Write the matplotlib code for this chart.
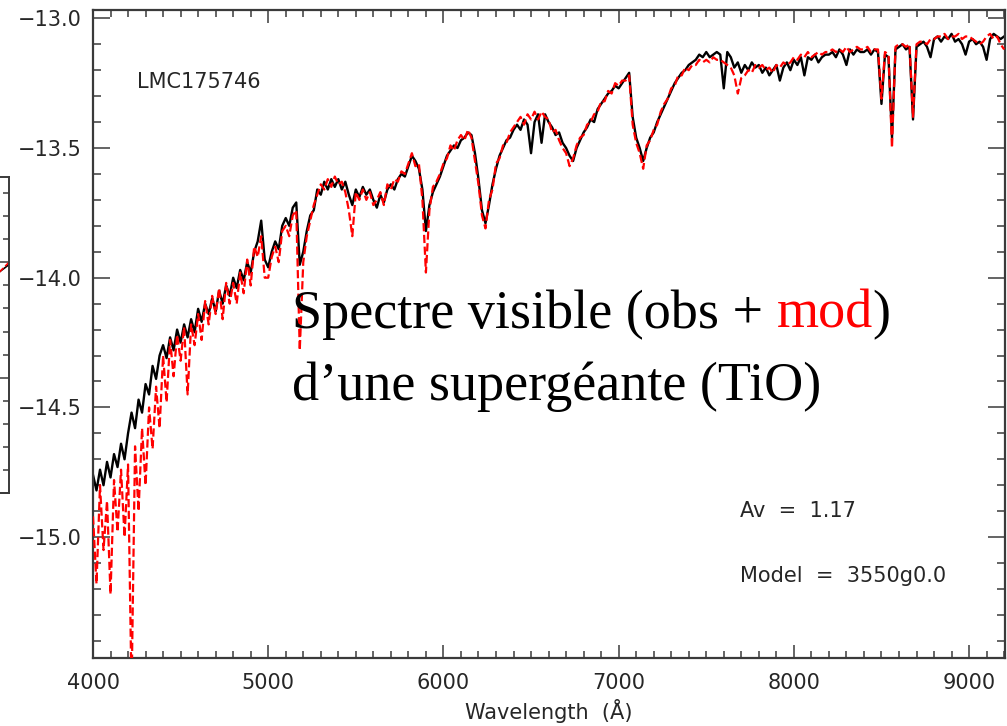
import numpy as np
import matplotlib
matplotlib.use('Agg')
import matplotlib.pyplot as plt
from matplotlib.ticker import MultipleLocator, FuncFormatter

# wavelength grid (Angstrom), 20 A steps
wave = np.arange(4000, 9201, 20)

# observed spectrum, log flux
obs_flux = [
    -14.76, -14.82, -14.74, -14.80, -14.71, -14.77, -14.68, -14.73, -14.64, -14.70,
    -14.60, -14.52, -14.58, -14.47, -14.52, -14.41, -14.45, -14.34, -14.39, -14.30,
    -14.26, -14.31, -14.23, -14.28, -14.20, -14.25, -14.18, -14.23, -14.16, -14.21,
    -14.12, -14.17, -14.10, -14.14, -14.08, -14.13, -14.05, -14.10, -14.03, -14.07,
    -14.00, -14.04, -13.97, -14.01, -13.94, -13.98, -13.90, -13.86, -13.78, -13.93,
    -13.96, -13.90, -13.86, -13.89, -13.80, -13.77, -13.80, -13.73, -13.71, -13.95,
    -13.90, -13.82, -13.76, -13.74, -13.66, -13.68, -13.63, -13.66, -13.62, -13.65,
    -13.62, -13.66, -13.63, -13.68, -13.72, -13.66, -13.69, -13.65, -13.68, -13.66,
    -13.70, -13.73, -13.68, -13.71, -13.66, -13.64, -13.66, -13.62, -13.60, -13.61,
    -13.57, -13.53, -13.55, -13.58, -13.66, -13.82, -13.72, -13.67, -13.64, -13.61,
    -13.57, -13.53, -13.51, -13.49, -13.50, -13.47, -13.46, -13.44, -13.45, -13.52,
    -13.62, -13.74, -13.79, -13.72, -13.64, -13.58, -13.53, -13.50, -13.47, -13.46,
    -13.43, -13.41, -13.43, -13.39, -13.41, -13.52, -13.40, -13.37, -13.48, -13.37,
    -13.40, -13.42, -13.45, -13.44, -13.48, -13.50, -13.53, -13.55, -13.50, -13.47,
    -13.44, -13.42, -13.39, -13.40, -13.35, -13.33, -13.31, -13.29, -13.28, -13.26,
    -13.27, -13.25, -13.23, -13.21, -13.38, -13.46, -13.50, -13.55, -13.50, -13.46,
    -13.44, -13.40, -13.37, -13.34, -13.31, -13.28, -13.25, -13.23, -13.21, -13.20,
    -13.18, -13.17, -13.16, -13.14, -13.15, -13.13, -13.15, -13.14, -13.13, -13.14,
    -13.27, -13.13, -13.15, -13.19, -13.17, -13.21, -13.18, -13.20, -13.17, -13.19,
    -13.18, -13.21, -13.19, -13.22, -13.20, -13.18, -13.24, -13.19, -13.17, -13.20,
    -13.16, -13.18, -13.15, -13.22, -13.15, -13.16, -13.14, -13.17, -13.15, -13.14,
    -13.14, -13.13, -13.15, -13.12, -13.14, -13.18, -13.12, -13.14, -13.12, -13.13,
    -13.13, -13.12, -13.14, -13.12, -13.13, -13.33, -13.14, -13.15, -13.46, -13.12,
    -13.11, -13.10, -13.12, -13.11, -13.39, -13.11, -13.10, -13.09, -13.11, -13.15,
    -13.08, -13.07, -13.09, -13.07, -13.08, -13.06, -13.09, -13.08, -13.10, -13.14,
    -13.09, -13.08, -13.10, -13.09, -13.11, -13.16, -13.08, -13.06, -13.07, -13.08,
    -13.07,
]

# model spectrum (3550g0.0, Av = 1.17)
mod_flux = [
    -14.92, -15.18, -14.80, -15.05, -14.86, -15.22, -14.78, -14.98, -14.74, -15.00,
    -14.72, -15.60, -14.65, -14.90, -14.58, -14.80, -14.50, -14.66, -14.42, -14.58,
    -14.30, -14.48, -14.24, -14.38, -14.22, -14.32, -14.19, -14.45, -14.18, -14.26,
    -14.14, -14.24, -14.09, -14.18, -14.07, -14.14, -14.04, -14.16, -14.02, -14.10,
    -14.02, -14.10, -13.98, -14.06, -13.93, -14.03, -13.88, -13.92, -13.84, -14.00,
    -14.00, -13.92, -13.88, -13.94, -13.82, -13.80, -13.84, -13.76, -13.74, -14.28,
    -13.94, -13.84, -13.78, -13.72, -13.68, -13.64, -13.66, -13.62, -13.65, -13.61,
    -13.64, -13.63, -13.67, -13.74, -13.84, -13.67, -13.70, -13.66, -13.70, -13.67,
    -13.72, -13.70, -13.67, -13.72, -13.64, -13.66, -13.62, -13.63, -13.59, -13.60,
    -13.56, -13.52, -13.57, -13.56, -13.70, -13.98, -13.74, -13.65, -13.63, -13.60,
    -13.56, -13.54, -13.49, -13.51, -13.47, -13.45, -13.47, -13.43, -13.46, -13.55,
    -13.64, -13.76, -13.81, -13.70, -13.66, -13.56, -13.54, -13.49, -13.48, -13.44,
    -13.42, -13.40, -13.38, -13.41, -13.37, -13.39, -13.36, -13.39, -13.36, -13.38,
    -13.39, -13.44, -13.43, -13.47, -13.50, -13.52, -13.57, -13.54, -13.49, -13.46,
    -13.45, -13.41, -13.40, -13.37, -13.36, -13.32, -13.32, -13.28, -13.29, -13.25,
    -13.26, -13.24, -13.24, -13.22, -13.41, -13.48, -13.52, -13.58, -13.49, -13.47,
    -13.43, -13.41, -13.36, -13.33, -13.31, -13.27, -13.26, -13.22, -13.22, -13.19,
    -13.20, -13.18, -13.18, -13.16, -13.17, -13.16, -13.17, -13.15, -13.16, -13.16,
    -13.17, -13.18, -13.19, -13.22, -13.29, -13.23, -13.22, -13.20, -13.21, -13.18,
    -13.19, -13.18, -13.20, -13.19, -13.21, -13.18, -13.19, -13.17, -13.18, -13.17,
    -13.15, -13.16, -13.14, -13.15, -13.13, -13.15, -13.14, -13.13, -13.14, -13.13,
    -13.13, -13.12, -13.13, -13.12, -13.13, -13.11, -13.13, -13.12, -13.11, -13.12,
    -13.12, -13.11, -13.13, -13.12, -13.12, -13.31, -13.13, -13.14, -13.50, -13.11,
    -13.10, -13.10, -13.11, -13.10, -13.38, -13.10, -13.09, -13.09, -13.10, -13.08,
    -13.08, -13.07, -13.07, -13.06, -13.08, -13.07, -13.07, -13.06, -13.08, -13.07,
    -13.07, -13.08, -13.09, -13.10, -13.09, -13.07, -13.06, -13.08, -13.07, -13.10,
    -13.12,
]

# edge of the neighbouring panel (only its last few pixels show)
nb_x = [0.93, 1.0]
nb_obs = [-14.07, -14.01]
nb_mod = [-14.08, -14.00]

star_name = 'LMC175746'
av_text = 'Av  =  1.17'
model_text = 'Model  =  3550g0.0'

spine_col = '#3a3a3a'
txt_col = '#262626'

fig = plt.figure(figsize=(10.07, 7.26), dpi=100)

# neighbouring panel, mostly outside the figure
nb = fig.add_axes([-0.25, 1 - 493 / 726, 0.25 + 9 / 1007, (493 - 177) / 726])
nb.plot(nb_x, nb_obs, color='black', lw=1.2)
nb.plot(nb_x, nb_mod, color='red', lw=1.2, ls='--')
nb.set_xlim(0, 1)
nb.set_ylim(-15.0, -13.63)
nb.yaxis.set_major_locator(MultipleLocator(0.5))
nb.yaxis.set_minor_locator(MultipleLocator(0.1))
nb.tick_params(which='both', direction='in', left=False, right=True,
               bottom=False, top=False, labelleft=False, labelbottom=False,
               color=spine_col, width=1.1)
nb.tick_params(which='major', length=8)
nb.tick_params(which='minor', length=4)
for s in nb.spines.values():
    s.set_color(spine_col)
    s.set_linewidth(1.4)

ax = fig.add_axes([93 / 1007, 1 - 658 / 726, (1005 - 93) / 1007, (658 - 10) / 726])
ax.plot(wave, obs_flux, color='black', lw=1.7, zorder=2)
ax.plot(wave, mod_flux, color='red', lw=1.6, ls='--', zorder=3)

ax.set_xlim(4000, 9205)
ax.set_ylim(-15.466, -12.968)
ax.xaxis.set_major_locator(MultipleLocator(1000))
ax.xaxis.set_minor_locator(MultipleLocator(100))
ax.yaxis.set_major_locator(MultipleLocator(0.5))
ax.yaxis.set_minor_locator(MultipleLocator(0.1))
ax.yaxis.set_major_formatter(FuncFormatter(lambda v, p: f'{v:.1f}'.replace('-', '\u2212')))

ax.tick_params(which='both', direction='in', top=True, right=True,
               color=spine_col, width=1.1, labelsize=15, labelcolor=txt_col)
ax.tick_params(axis='x', which='major', length=9.5, pad=11)
ax.tick_params(axis='x', which='minor', length=5)
ax.tick_params(axis='y', which='major', length=12, pad=8)
ax.tick_params(axis='y', which='minor', length=6)
for s in ax.spines.values():
    s.set_color(spine_col)
    s.set_linewidth(1.6)

ax.set_xlabel('Wavelength  (\u00c5)', fontsize=15, color=txt_col, labelpad=4)

ax.text(4251, -13.27, star_name, fontsize=15, color=txt_col, va='baseline')
ax.text(7693, -14.922, av_text, fontsize=15, color=txt_col, va='baseline')
ax.text(7693, -15.173, model_text, fontsize=15, color=txt_col, va='baseline')

# caption in serif, "mod" in red
serif = 'Liberation Serif'
t1 = ax.text(5135, -14.24, 'Spectre visible (obs +', fontsize=39, family=serif,
             color='black', va='bottom', ha='left')
t2 = ax.annotate('mod', xy=(1, 0), xycoords=t1, xytext=(9.75, 0),
                 textcoords='offset points', fontsize=39, family=serif,
                 color='red', va='bottom', ha='left')
t3 = ax.annotate(')', xy=(1, 0), xycoords=t2, fontsize=39, family=serif,
                 color='black', va='bottom', ha='left')
ax.text(5135, -14.471, 'd\u2019une supergéante (TiO)', fontsize=39, family=serif,
        color='black', va='baseline', ha='left')

fig.savefig('out.png', dpi=100)
